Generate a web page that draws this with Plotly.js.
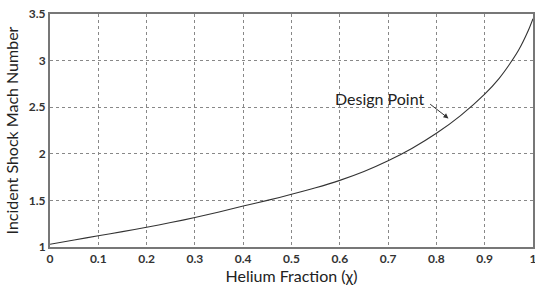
<!DOCTYPE html>
<html><head><meta charset="utf-8">
<script src="https://cdn.plot.ly/plotly-3.0.1.min.js"></script>
<style>html,body{margin:0;padding:0;background:#fff;}#c{width:535px;height:286px;}</style>
</head><body><div id="c"></div>
<script>
const heliumFraction = [0, 0.05, 0.1, 0.15, 0.2, 0.25, 0.3, 0.35, 0.4, 0.45, 0.5, 0.55, 0.6, 0.65, 0.7, 0.75, 0.8, 0.85, 0.9, 0.93, 0.95, 0.97, 0.99, 1.0];
const machNumber     = [1.03, 1.075, 1.12, 1.165, 1.212, 1.262, 1.316, 1.376, 1.44, 1.5, 1.565, 1.635, 1.715, 1.81, 1.925, 2.06, 2.22, 2.41, 2.64, 2.81, 2.95, 3.11, 3.32, 3.45];
const xTicks = [0, 0.1, 0.2, 0.3, 0.4, 0.5, 0.6, 0.7, 0.8, 0.9, 1];
const xTickLabels = ['0', '0.1', '0.2', '0.3', '0.4', '0.5', '0.6', '0.7', '0.8', '0.9', '1'];
const yTicks = [1, 1.5, 2, 2.5, 3, 3.5];
const yTickLabels = ['1', '1.5', '2', '2.5', '3', '3.5'];
const annotationText = 'Design Point';

const font = 'Lato, "Open Sans", sans-serif';
Plotly.newPlot('c', [{
  x: heliumFraction, y: machNumber, type: 'scatter', mode: 'lines',
  line: {color: '#333', width: 1.1, shape: 'spline', smoothing: 0.8}, hoverinfo: 'none'
}], {
  width: 535, height: 286,
  margin: {l: 50, r: 2, t: 14, b: 39},
  paper_bgcolor: '#fff', plot_bgcolor: '#fff',
  showlegend: false,
  font: {family: font, color: '#222'},
  xaxis: {
    range: [0, 1], tickvals: xTicks, ticktext: xTickLabels,
    tickfont: {size: 12, family: font, weight: 'bold', color: '#333'},
    ticklabeloverflow: 'allow',
    showgrid: true, gridcolor: '#888', griddash: 'dot', gridwidth: 1,
    showline: true, linecolor: '#777', linewidth: 2, mirror: true,
    ticks: '', zeroline: false, automargin: false,
    title: {text: 'Helium Fraction (χ)', font: {size: 16, family: font, color: '#222'}, standoff: 4}
  },
  yaxis: {
    range: [1, 3.5], tickvals: yTicks, ticktext: yTickLabels,
    tickfont: {size: 12, family: font, weight: 'bold', color: '#333'},
    ticklabeloverflow: 'allow',
    showgrid: true, gridcolor: '#888', griddash: 'dot', gridwidth: 1,
    showline: true, linecolor: '#777', linewidth: 2, mirror: true,
    ticks: '', zeroline: false, automargin: false,
    title: {text: 'Incident Shock Mach Number', font: {size: 16, family: font, color: '#222'}, standoff: 6}
  },
  annotations: [{
    x: 0.825, y: 2.38, xref: 'x', yref: 'y',
    ax: 0.784, ay: 2.545, axref: 'x', ayref: 'y',
    text: '', showarrow: true, arrowhead: 2, arrowsize: 1, arrowwidth: 1, arrowcolor: '#333'
  }, {
    x: 0.683, y: 2.59, xref: 'x', yref: 'y', text: annotationText, showarrow: false,
    font: {size: 16, family: font, color: '#222'}
  }]
}, {staticPlot: true});
</script></body></html>
